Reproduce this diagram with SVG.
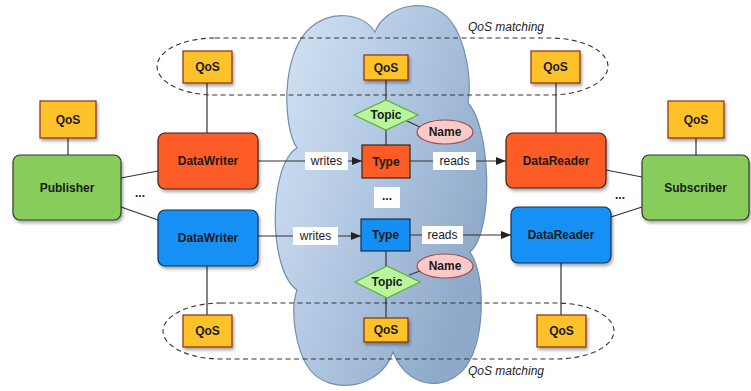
<svg xmlns="http://www.w3.org/2000/svg" width="751" height="391" viewBox="0 0 751 391">
<defs>
<linearGradient id="cg" x1="0" y1="0" x2="1" y2="0.6">
<stop offset="0" stop-color="#d6e5f5"/>
<stop offset="0.5" stop-color="#b3c9e3"/>
<stop offset="1" stop-color="#8ea9c9"/>
</linearGradient>
<filter id="sh" x="-20%" y="-20%" width="150%" height="160%">
<feDropShadow dx="1.5" dy="2.5" stdDeviation="1.8" flood-color="#000" flood-opacity="0.35"/>
</filter>
<marker id="ar" markerWidth="10" markerHeight="8" refX="10" refY="4" orient="auto" markerUnits="userSpaceOnUse">
<path d="M0,0 L10,4 L0,8 Z" fill="#222"/>
</marker>
<style>
text{font-family:"Liberation Sans",Arial,sans-serif;font-size:12px;fill:#1a1a1a;text-anchor:middle;dominant-baseline:central}
.b{font-weight:bold}
.it{font-style:italic;text-anchor:start;fill:#222}
.qos{fill:#fdc22a;stroke:#8b2c14;stroke-width:1.2;filter:url(#sh)}
.red{fill:#fd5c27;stroke:#3a2418;stroke-width:1.2;filter:url(#sh)}
.blue{fill:#1490f5;stroke:#14304f;stroke-width:1.2;filter:url(#sh)}
.green{fill:#88cd5c;stroke:#2e3a28;stroke-width:1.2;filter:url(#sh)}
.dia{fill:#b8f59c;stroke:#5cb03c;stroke-width:1.2}
.name{fill:#fcc9c9;stroke:#9c4a4a;stroke-width:1.2}
.ln{stroke:#333;stroke-width:1.2;fill:none}
.dash{stroke:#333;stroke-width:1.1;fill:none;stroke-dasharray:5,3.5}
.lbl{fill:#fff}
</style>
</defs>
<rect width="751" height="391" fill="#fff"/>
<g id="cloud">
<path d="M297,148 C283,128 280,55 310,28 C330,10 362,12 375,32 C385,5 430,-5 450,20 C466,40 472,80 468,103 C490,125 495,230 470,252 C485,275 485,330 470,360 C455,390 410,395 393,352 C380,390 330,395 310,370 C295,350 290,310 297,290 C268,270 268,165 297,148 Z" fill="url(#cg)" stroke="#6f8fb0" stroke-width="1.2"/>
</g>
<g id="qos-matching">
<path class="dash" d="M215,38 H550 A58,28.5 0 0 1 550,95 H215 A58,28.5 0 0 1 215,38 Z"/>
<path class="dash" d="M221,303 H556 A58,28 0 0 1 556,359 H221 A58,28 0 0 1 221,303 Z"/>
<text class="it" x="468" y="27">QoS matching</text>
<text class="it" x="468" y="371">QoS matching</text>
</g>
<g id="connectors">
<line class="ln" x1="68" y1="138" x2="68" y2="155"/>
<line class="ln" x1="696" y1="138" x2="696" y2="155"/>
<line class="ln" x1="121" y1="178" x2="158" y2="171"/>
<line class="ln" x1="121" y1="207" x2="158" y2="220"/>
<line class="ln" x1="606" y1="170" x2="642" y2="177"/>
<line class="ln" x1="611" y1="217" x2="642" y2="207"/>
<line class="ln" x1="207" y1="83" x2="207" y2="133"/>
<line class="ln" x1="207" y1="266" x2="207" y2="315"/>
<line class="ln" x1="556" y1="83" x2="556" y2="133"/>
<line class="ln" x1="561" y1="263" x2="561" y2="315"/>
<line class="ln" x1="386" y1="80" x2="386" y2="100"/>
<line class="ln" x1="386" y1="130" x2="386" y2="145"/>
<line class="ln" x1="407" y1="121" x2="420" y2="127"/>
<line class="ln" x1="386" y1="251" x2="386" y2="267"/>
<line class="ln" x1="386" y1="297" x2="386" y2="318"/>
<line class="ln" x1="409" y1="275" x2="420" y2="271"/>
<line class="ln" x1="258" y1="161" x2="362" y2="161" marker-end="url(#ar)"/>
<line class="ln" x1="258" y1="236" x2="361" y2="236" marker-end="url(#ar)"/>
<line class="ln" x1="410" y1="161" x2="506" y2="161" marker-end="url(#ar)"/>
<line class="ln" x1="410" y1="235" x2="511" y2="235" marker-end="url(#ar)"/>
<rect class="lbl" x="305" y="152" width="43" height="18"/>
<text x="326.5" y="161">writes</text>
<rect class="lbl" x="293" y="227" width="45" height="18"/>
<text x="315.5" y="236">writes</text>
<rect class="lbl" x="433" y="152" width="43" height="18"/>
<text x="454.5" y="161">reads</text>
<rect class="lbl" x="422" y="226" width="41" height="18"/>
<text x="442.5" y="235">reads</text>
<text class="b" x="140" y="193">...</text>
<text class="b" x="620" y="195">...</text>
</g>
<g id="publisher-qos"><rect class="qos" x="40" y="101" width="56" height="37"/><text class="b" x="68" y="119.5">QoS</text></g>
<g id="publisher"><rect class="green" x="13" y="155" width="108" height="65" rx="7"/><text class="b" x="67" y="187.5">Publisher</text></g>
<g id="subscriber-qos"><rect class="qos" x="668" y="101" width="56" height="37"/><text class="b" x="696" y="119.5">QoS</text></g>
<g id="subscriber"><rect class="green" x="642" y="155" width="107" height="65" rx="7"/><text class="b" x="695.5" y="187.5">Subscriber</text></g>
<g id="writer-red-qos"><rect class="qos" x="183" y="51" width="49" height="32"/><text class="b" x="207.5" y="67">QoS</text></g>
<g id="writer-red"><rect class="red" x="158" y="133" width="100" height="56" rx="7"/><text class="b" x="208" y="161">DataWriter</text></g>
<g id="writer-blue"><rect class="blue" x="158" y="210" width="100" height="56" rx="7"/><text class="b" x="208" y="238">DataWriter</text></g>
<g id="writer-blue-qos"><rect class="qos" x="183" y="315" width="49" height="32"/><text class="b" x="207.5" y="331">QoS</text></g>
<g id="reader-red-qos"><rect class="qos" x="531" y="51" width="49" height="32"/><text class="b" x="555.5" y="67">QoS</text></g>
<g id="reader-red"><rect class="red" x="506" y="133" width="100" height="55" rx="7"/><text class="b" x="556" y="160.5">DataReader</text></g>
<g id="reader-blue"><rect class="blue" x="511" y="207" width="100" height="56" rx="7"/><text class="b" x="561" y="235">DataReader</text></g>
<g id="reader-blue-qos"><rect class="qos" x="537" y="315" width="49" height="32"/><text class="b" x="561.5" y="331">QoS</text></g>
<g id="topic-qos-top"><rect class="qos" x="364" y="55" width="44" height="25"/><text class="b" x="386" y="67.5">QoS</text></g>
<g id="topic-top"><polygon class="dia" points="354,115 386,100 418,115 386,130"/><text class="b" x="386" y="115">Topic</text></g>
<g id="name-top"><ellipse class="name" cx="445" cy="132" rx="28" ry="12"/><text class="b" x="445" y="132">Name</text></g>
<g id="type-red"><rect class="red" x="362" y="145" width="48" height="33" style="filter:none"/><text class="b" x="386" y="161.5">Type</text></g>
<g id="ellipsis"><rect fill="#fff" x="374" y="187" width="26" height="21"/><text class="b" x="387" y="196">...</text></g>
<g id="type-blue"><rect class="blue" x="361" y="219" width="49" height="32" style="filter:none"/><text class="b" x="385.5" y="235">Type</text></g>
<g id="topic-bottom"><polygon class="dia" points="355,282 387,266 420,282 387,298"/><text class="b" x="387" y="282">Topic</text></g>
<g id="name-bottom"><ellipse class="name" cx="445" cy="266" rx="28" ry="12"/><text class="b" x="445" y="266">Name</text></g>
<g id="topic-qos-bottom"><rect class="qos" x="364" y="318" width="44" height="24"/><text class="b" x="386" y="330">QoS</text></g>
</svg>
